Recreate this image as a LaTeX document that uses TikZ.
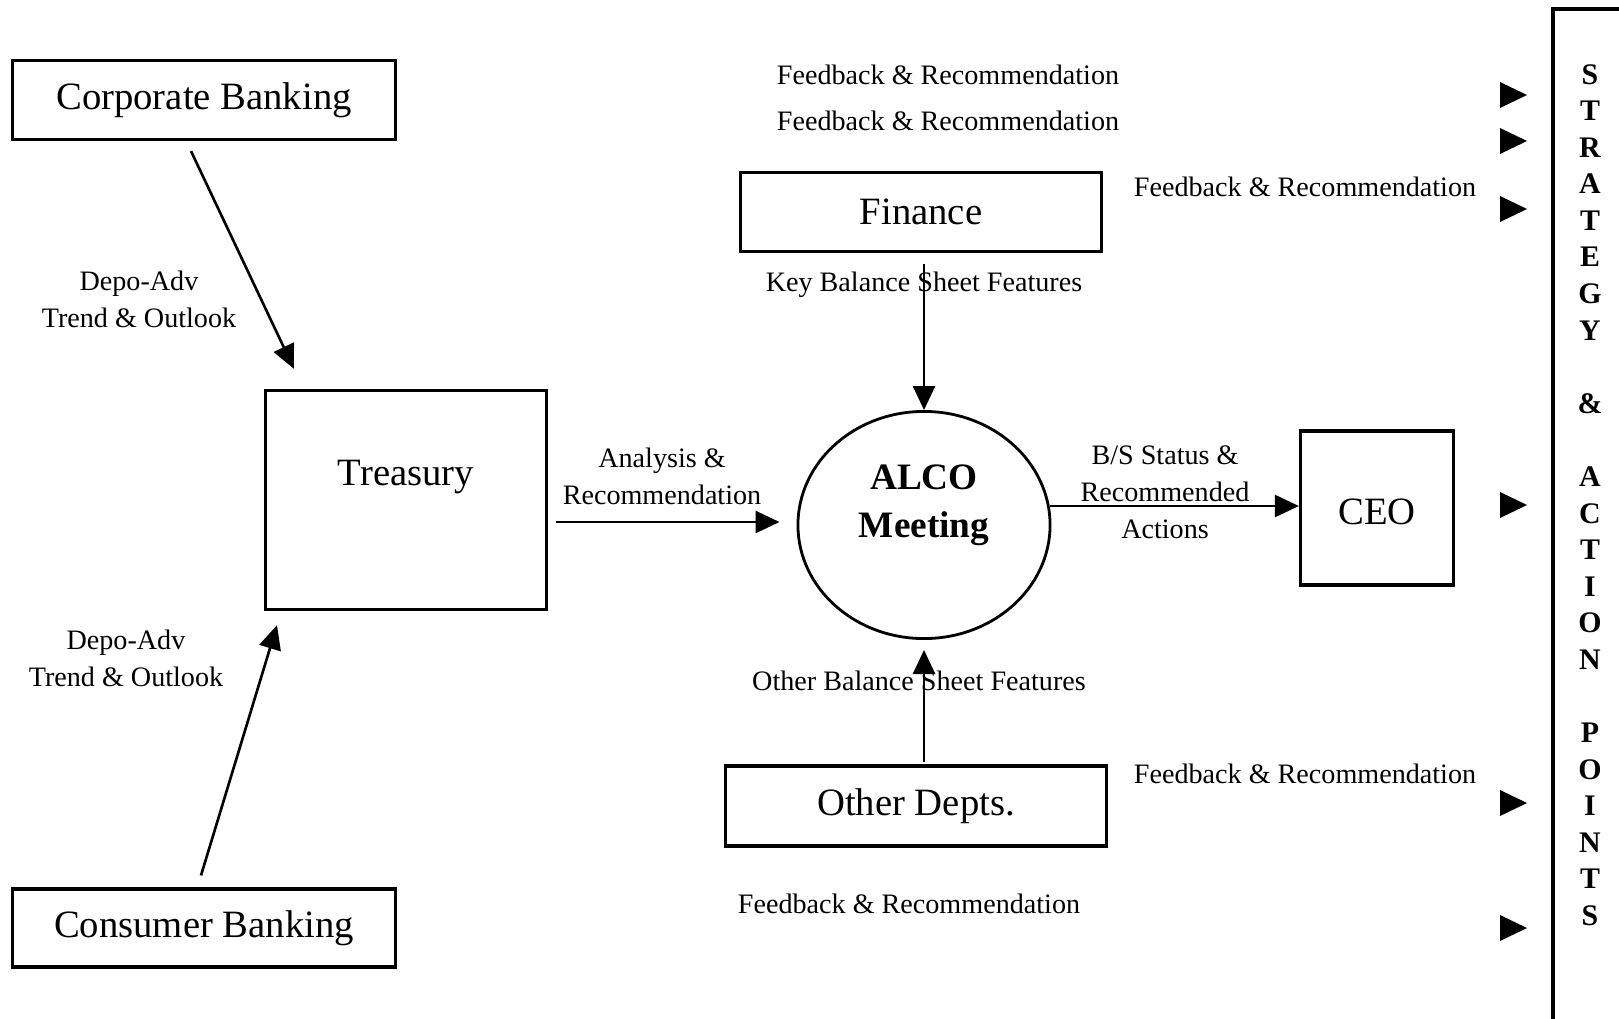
\documentclass[tikz,border=0pt]{standalone}
\usepackage{fontspec}
\setmainfont{Liberation Serif}
\usepackage{xcolor}
\usepackage{tikz}
\usetikzlibrary{arrows.meta,shapes.geometric}

\begin{document}
\begin{tikzpicture}[x=0.01cm, y=-0.01cm,
    dept/.style={draw, line width=0.9pt, inner sep=0pt, font=\fontsize{11}{13}\selectfont},
    flow/.style={line width=0.75pt, -{Triangle[length=0.24cm, width=0.22cm]}},
    note/.style={align=center, inner sep=0pt, font=\fontsize{8}{10.5}\selectfont}
    ]
    \useasboundingbox (0,0) rectangle (1619,1018);

    % boxes
    \node[dept, minimum width=3.82cm, minimum height=0.79cm] (corp) at (204,100) {Corporate Banking};
    \node[dept, minimum width=3.82cm, minimum height=0.78cm] (cons) at (204,928) {Consumer Banking};
    \node[dept, minimum width=2.81cm, minimum height=2.19cm,
      label={[font=\fontsize{11}{13}\selectfont, yshift=0.23cm]center:Treasury}] (treas) at (406,500) {};
    \node[dept, minimum width=3.61cm, minimum height=0.79cm] (fin) at (921,212) {Finance};
    \node[dept, minimum width=3.81cm, minimum height=0.80cm] (other) at (916,806) {Other Depts.};
    \node[dept, minimum width=1.53cm, minimum height=1.54cm, text height=0.34cm] (ceo) at (1377,508) {CEO};
    \node[ellipse, draw, line width=0.8pt, inner sep=0pt, minimum width=2.52cm, minimum height=2.27cm,
      label={[align=center, font=\bfseries\fontsize{10.6}{13.6}\selectfont, yshift=0.20cm]center:ALCO\\Meeting}] (alco) at (924,525) {};

    % arrows
    \draw[flow] ([shift={(-13,10)}]corp.south) -- ([shift={(-112,-20)}]treas.north);
    \draw[flow] ([shift={(-3,-12)}]cons.north) -- ([shift={(-129,14)}]treas.south);
    \draw[flow] ([shift={(8,22)}]treas.east) -- ([shift={(-17,-3)}]alco.west);
    \draw[flow] ([shift={(3,11)}]fin.south) -- (alco.north);
    \draw[flow] ([shift={(8,-2)}]other.north) -- ([shift={(0,10)}]alco.south);
    \draw[flow] ([shift={(-2,-19)}]alco.east) -- ([shift={(0,-2)}]ceo.west);

    % labels
    \node[note] (dep1) at (139,299) {Depo-Adv\\Trend \& Outlook};
    \node[note] (dep2) at (126,658) {Depo-Adv\\Trend \& Outlook};
    \node[note] (ana) at (662,476) {Analysis \&\\Recommendation};
    \node[note] (key) at (924,285) {Key Balance Sheet Features};
    \node[note] (oth) at (919,681) {Other Balance Sheet Features};
    \node[note] (bs) at (1165,492) {B/S Status \&\\Recommended\\Actions};
    \node[note] (fb1) at (948,75) {Feedback \& Recommendation};
    \node[note] (fb2) at (948,121) {Feedback \& Recommendation};
    \node[note] (fb3) at (1305,187) {Feedback \& Recommendation};
    \node[note] (fb4) at (1305,774) {Feedback \& Recommendation};
    \node[note] (fb5) at (909,904) {Feedback \& Recommendation};

    % pointers into the panel
    \foreach \ty in {95,141,209,505,803,928}
      \fill (1500,\ty-13) -- (1527,\ty) -- (1500,\ty+13) -- cycle;

    % strategy panel
    \draw[line width=0.9pt] (1553,1030) |- (1630,9);
    \node[align=center, inner sep=0pt, font=\bfseries\fontsize{8.5}{10.4}\selectfont] (plan) at (1590,495)
      {S\\T\\R\\A\\T\\E\\G\\Y\\[0.366cm]\&\\[0.366cm]A\\C\\T\\I\\O\\N\\[0.366cm]P\\O\\I\\N\\T\\S};
  \end{tikzpicture}
\end{document}
